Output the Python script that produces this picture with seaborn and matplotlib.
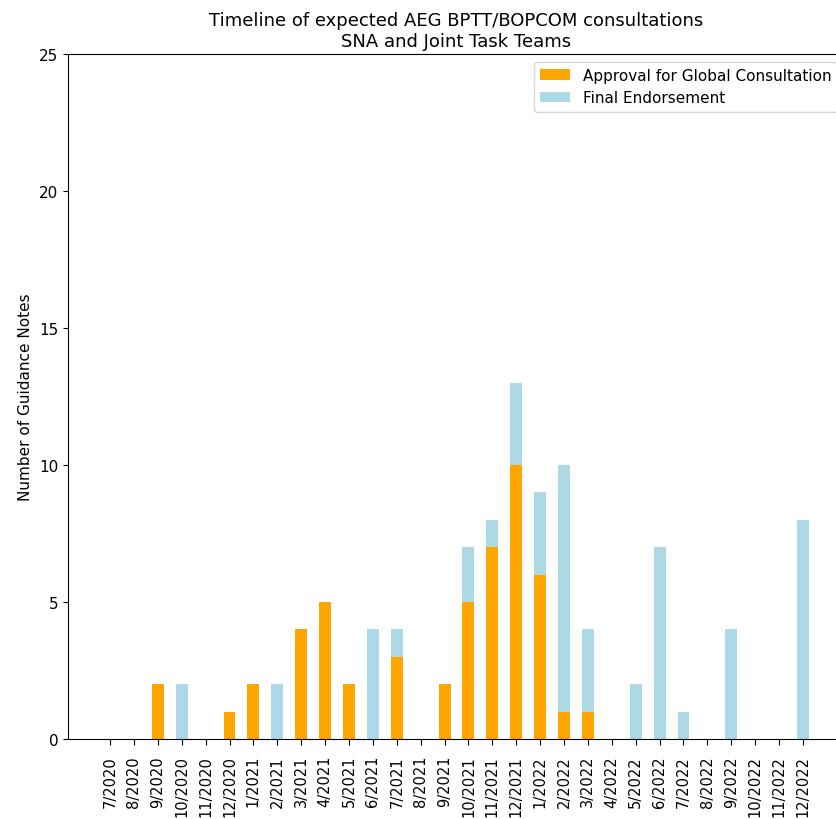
import pandas as pd
import matplotlib
matplotlib.use("Agg")
import matplotlib.pyplot as plt
import seaborn as sns

months = ["7/2020", "8/2020", "9/2020", "10/2020", "11/2020", "12/2020",
          "1/2021", "2/2021", "3/2021", "4/2021", "5/2021", "6/2021",
          "7/2021", "8/2021", "9/2021", "10/2021", "11/2021", "12/2021",
          "1/2022", "2/2022", "3/2022", "4/2022", "5/2022", "6/2022",
          "7/2022", "8/2022", "9/2022", "10/2022", "11/2022", "12/2022"]
approval = [0, 0, 2, 0, 0, 1, 2, 0, 4, 5, 2, 0, 3, 0, 2, 5, 7, 10,
            6, 1, 1, 0, 0, 0, 0, 0, 0, 0, 0, 0]
endorsement = [0, 0, 0, 2, 0, 0, 0, 2, 0, 0, 0, 4, 1, 0, 0, 2, 1, 3,
               3, 9, 3, 0, 2, 7, 1, 0, 4, 0, 0, 8]

df = pd.DataFrame({"month": months, "approval": approval, "endorsement": endorsement})
df["total"] = df["approval"] + df["endorsement"]

fig = plt.figure(figsize=(8.36, 8.20), dpi=100)
ax = fig.add_axes([68 / 836, 80 / 820, 777 / 836, 685 / 820])

# stacked: draw total in light blue, then approval in orange over it
sns.barplot(data=df, x="month", y="total", color="lightblue", saturation=1,
            width=0.5, ax=ax, label="Final Endorsement")
sns.barplot(data=df, x="month", y="approval", color="orange", saturation=1,
            width=0.5, ax=ax, label="Approval for Global Consultation")

ax.set_xlim(-1.76, 30.76)
ax.set_ylim(0, 25)
ax.set_yticks([0, 5, 10, 15, 20, 25])
ax.set_xlabel("")
ax.set_ylabel("Number of Guidance Notes", fontsize=11)
ax.tick_params(axis="y", labelsize=11)
ax.tick_params(axis="x", labelsize=10.5, length=4.5, pad=7)
plt.xticks(rotation=90)
ax.set_title("Timeline of expected AEG BPTT/BOPCOM consultations\nSNA and Joint Task Teams",
             fontsize=13)

h, l = ax.get_legend_handles_labels()
ax.legend(h[::-1], l[::-1], loc="upper right", fontsize=11)

fig.savefig("out.png", dpi=100)
